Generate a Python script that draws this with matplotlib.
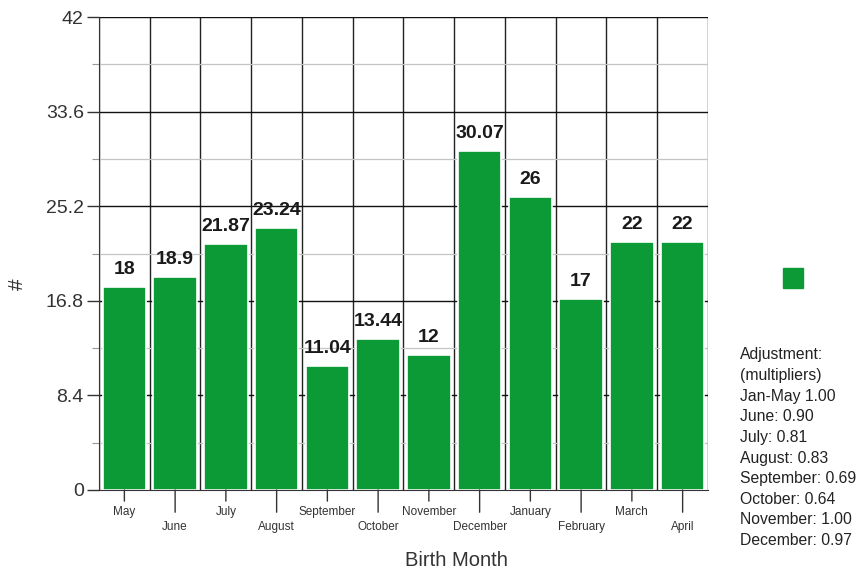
import matplotlib
matplotlib.use("Agg")
import matplotlib.pyplot as plt
import numpy as np
from matplotlib.patches import Rectangle

months = ["May", "June", "July", "August", "September", "October", "November",
          "December", "January", "February", "March", "April"]
values = [18, 18.9, 21.87, 23.24, 11.04, 13.44, 12, 30.07, 26, 17, 22, 22]
value_labels = ["18", "18.9", "21.87", "23.24", "11.04", "13.44", "12",
                "30.07", "26", "17", "22", "22"]
yticks = [0, 8.4, 16.8, 25.2, 33.6, 42]
ytick_labels = ["0", "8.4", "16.8", "25.2", "33.6", "42"]
note_lines = ["Adjustment:", "(multipliers)", "Jan-May 1.00", "June: 0.90",
              "July: 0.81", "August: 0.83", "September: 0.69", "October: 0.64",
              "November: 1.00", "December: 0.97"]

green = "#0b9a36"
plt.rcParams['font.family'] = ['Liberation Sans', 'DejaVu Sans']

fig = plt.figure(figsize=(8.61, 5.71), dpi=100)
ax = fig.add_axes([99/861, 1-490/571, 609/861, 473/571])

n = len(months)
x = np.arange(n)
ax.set_xlim(-0.5, n-0.5)
ax.set_ylim(0, 42)

# grid
for b in np.arange(-0.5, n, 1.0):
    ax.axvline(b, color="#222222", lw=1.0, zorder=1)
for yv in yticks[1:]:
    ax.axhline(yv, color="#111111", lw=1.0, zorder=1)
for yv in np.array(yticks[:-1]) + 4.2:
    ax.axhline(yv, color="#c4c4c4", lw=0.9, zorder=1)

ax.bar(x, values, width=0.86, color=green, edgecolor="white", linewidth=1.2, zorder=2)

for xi, v, lab in zip(x, values, value_labels):
    ax.text(xi, v + 0.8, lab, ha="center", va="bottom", fontsize=14,
            fontweight="bold", color="#1a1a1a", zorder=3)

for s in ["top", "right"]:
    ax.spines[s].set_visible(False)
ax.spines["left"].set_color("#333333")
ax.spines["bottom"].set_color("#333333")

ax.set_yticks(yticks)
ax.set_yticklabels(ytick_labels, fontsize=14, color="#333333")
ax.set_yticks(np.array(yticks[:-1]) + 4.2, minor=True)
ax.tick_params(axis="y", which="major", length=9, width=1, color="#333333", pad=2)
ax.tick_params(axis="y", which="minor", length=5, width=0.8, color="#999999")

ax.set_xticks(x)
ax.set_xticklabels([])
ax.tick_params(axis="x", length=0)
for xi, m in zip(x, months):
    long = (xi % 2 == 1)
    L = 16 if long else 8
    ax.annotate("", xy=(xi, 0), xycoords="data",
                xytext=(0, -L), textcoords="offset points",
                arrowprops=dict(arrowstyle="-", color="#333333", lw=1,
                                shrinkA=0, shrinkB=0),
                annotation_clip=False)
    ax.text(xi, -3.3 if long else -1.95, m, ha="center", va="center",
            fontsize=8.5, color="#333333", clip_on=False)

fig.text(17/861, 1-284/571, "#", rotation=90, ha="center", va="center",
         fontsize=15, color="#333333")
fig.text(456/861, 1-560/571, "Birth Month", ha="center", va="center",
         fontsize=14.5, color="#333333")

# legend square
fig.patches.append(Rectangle((783/861, 1-288/571), 20/861, 20/571,
                             transform=fig.transFigure, color=green))
for i, line in enumerate(note_lines):
    fig.text(740/861, 1-(355 + i*20.6)/571, line, ha="left", va="center",
             fontsize=11.3, color="#222222")

fig.savefig("out.png", dpi=100)
